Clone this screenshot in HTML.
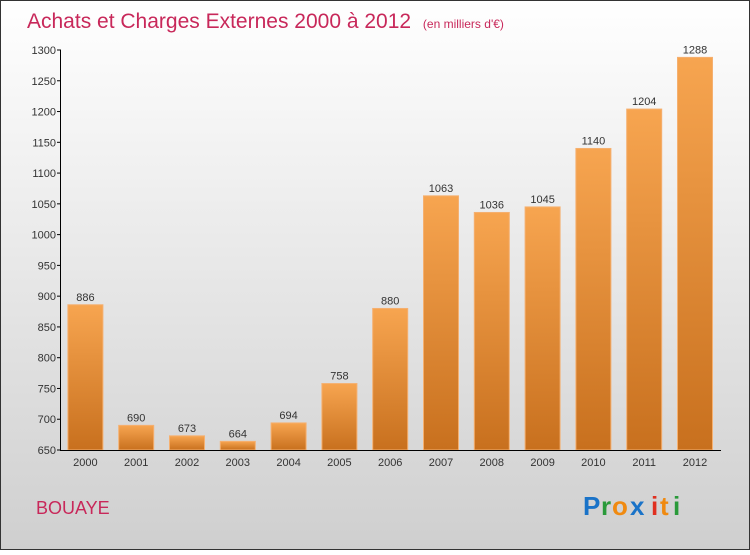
<!DOCTYPE html>
<html><head><meta charset="utf-8"><style>
body{margin:0;width:750px;height:550px;overflow:hidden;font-family:"Liberation Sans",sans-serif;}
</style></head><body>
<svg width="750" height="550" xmlns="http://www.w3.org/2000/svg">
<defs>
<linearGradient id="bg" x1="0" y1="0" x2="0" y2="1"><stop offset="0" stop-color="#ffffff"/><stop offset="1" stop-color="#cfcfcf"/></linearGradient>
<linearGradient id="bar" x1="0" y1="0" x2="0" y2="1"><stop offset="0" stop-color="#f7a550"/><stop offset="1" stop-color="#c8701e"/></linearGradient>
</defs>
<rect x="0.5" y="0.5" width="749" height="549" fill="url(#bg)" stroke="#333"/>
<text x="27" y="28" font-size="21" fill="#c8285a">Achats et Charges Externes 2000 à 2012 <tspan font-size="12" dx="6">(en milliers d'€)</tspan></text>
<g id="plot"></g>
<text x="36" y="514" font-size="18" fill="#c8285a">BOUAYE</text>
<g font-size="26" font-weight="bold">
<text x="583" y="515" fill="#1a73c8">P</text><text x="601" y="515" fill="#2a9a3a">r</text><text x="612" y="515" fill="#f08a10">o</text><text x="630" y="515" fill="#1a73c8">x</text><text x="651" y="515" fill="#e03020">i</text><text x="660" y="515" fill="#f08a10">t</text><text x="673" y="515" fill="#2a9a3a">i</text>
</g>
</svg>
<script>
const years=["2000","2001","2002","2003","2004","2005","2006","2007","2008","2009","2010","2011","2012"];
const values=[886,690,673,664,694,758,880,1063,1036,1045,1140,1204,1288];
const yTicks=[650,700,750,800,850,900,950,1000,1050,1100,1150,1200,1250,1300];
const NS="http://www.w3.org/2000/svg";
const g=document.getElementById('plot');
const y=v=>450-(v-650)*400/650;
const x=i=>85.4+i*50.8;
function mk(t,a,p){const e=document.createElementNS(NS,t);for(const k in a)e.setAttribute(k,a[k]);(p||g).appendChild(e);return e;}
values.forEach((v,i)=>{
 const r=mk('rect',{x:x(i)-17.5,y:y(v),width:35,height:450-y(v),fill:'url(#bar)',stroke:'#f5b070','stroke-width':1});
 
 
 const t=mk('text',{x:x(i),y:y(v)-4,'text-anchor':'middle','font-size':11,fill:'#333'});t.textContent=v;
 
 
 const xl=mk('text',{x:x(i),y:466,'text-anchor':'middle','font-size':11,fill:'#333'});xl.textContent=years[i];
 
 
});
yTicks.forEach(v=>{
 mk('line',{x1:57,x2:61,y1:y(v),y2:y(v),stroke:'#000'});
 const t=mk('text',{x:56,y:y(v)+4,'text-anchor':'end','font-size':11,fill:'#333'});t.textContent=v;
 
 
});
const ya=mk('line',{x1:60.5,x2:60.5,y1:50,y2:450.5,stroke:'#000'});


const xa=mk('line',{x1:60,x2:721,y1:450.5,y2:450.5,stroke:'#000'});


</script>
</body></html>
